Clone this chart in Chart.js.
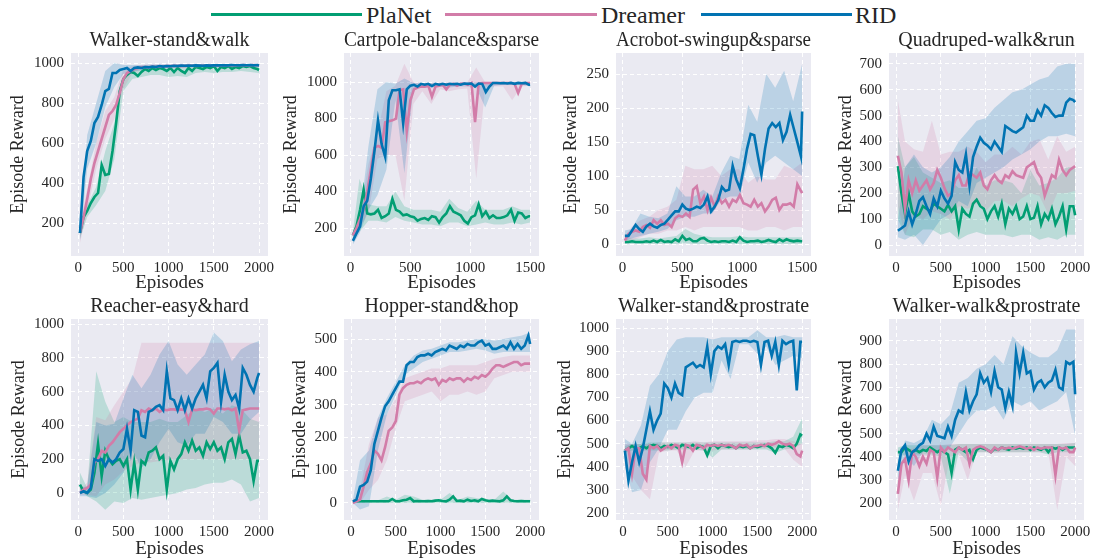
<!DOCTYPE html>
<html><head><meta charset="utf-8">
<script src="https://cdn.jsdelivr.net/npm/chart.js@4.4.1/dist/chart.umd.min.js"></script>
<style>
html,body{margin:0;padding:0;background:#fff;width:1094px;height:559px;overflow:hidden;position:relative;font-family:"Liberation Serif",serif;}
canvas{position:absolute;}
.lg-line{position:absolute;height:3px;top:13px;}
.lg-text{position:absolute;top:3px;font-size:24px;line-height:24px;color:#262626;white-space:nowrap;}
</style></head><body>
<div class="lg-line" style="left:211px;width:151px;background:#029e73"></div>
<div class="lg-text" style="left:366px">PlaNet</div>
<div class="lg-line" style="left:445px;width:152px;background:#d27ca8"></div>
<div class="lg-text" style="left:601px">Dreamer</div>
<div class="lg-line" style="left:701px;width:151px;background:#0173b2"></div>
<div class="lg-text" style="left:855px">RID</div>
<script>
// ---------- shared x values ----------
const X2000 = [20,60,100,140,180,220,260,300,340,380,420,460,500,540,580,620,660,700,740,780,820,860,900,940,980,1020,1060,1100,1140,1180,1220,1260,1300,1340,1380,1420,1460,1500,1540,1580,1620,1660,1700,1740,1780,1820,1860,1900,1940,1980,2000];
const X1500 = [20,50,80,110,140,170,200,230,260,290,320,350,380,410,440,470,500,530,560,590,620,650,680,710,740,770,800,830,860,890,920,950,980,1010,1040,1070,1100,1130,1160,1190,1220,1250,1280,1310,1340,1370,1400,1430,1460,1490,1500];
const B2000 = [20,100,200,300,400,500,600,700,800,900,1000,1100,1200,1300,1400,1500,1600,1700,1800,1900,2000];
const B1500 = [20,75,150,225,300,375,450,525,600,675,750,825,900,975,1050,1125,1200,1275,1350,1425,1500];
const XT2000 = [0,500,1000,1500,2000];
const XT1500 = [0,500,1000,1500];

// ---------- Walker-stand&walk ----------
const wsw_rid = [150,430,560,610,700,730,790,860,870,950, 950,965,970,975,960,975,978,975,980,978, 982,980,985,982,985,984,986,985,987,986, 987,986,988,987,986,988,987,988,989,988, 989,988,990,989,988,990,989,990,988,990, 988];
const wsw_dreamer = [150,230,320,420,500,560,620,680,740,760, 790,850,920,950,960,970,975,978,980,978, 982,980,984,982,985,983,986,985,986,985, 987,986,985,987,986,988,987,988,988,987, 989,988,989,988,989,990,988,989,990,989, 988];
const wsw_planet = [150,230,260,300,330,350,490,440,445,560, 700,860,920,940,955,950,935,955,970,960, 975,965,975,970,960,975,955,975,960,950, 975,960,980,975,970,980,975,985,960,980, 975,985,970,980,975,985,980,985,975,970, 965];
const wsw_rid_lo = [110,470,600,780,880,945,955,965,970,975,975,978,978,980,980,982,982,982,982,982,980];
const wsw_rid_hi = [190,640,800,960,1000,990,990,990,992,993,993,994,994,995,995,995,995,995,995,995,995];
const wsw_dre_lo = [100,260,470,620,720,870,950,965,970,972,975,975,976,977,978,978,979,980,980,980,980];
const wsw_dre_hi = [200,370,600,760,830,970,985,990,992,993,994,994,995,995,995,995,995,995,995,995,995];
const wsw_pla_lo = [120,230,290,360,520,860,920,930,940,940,930,935,930,950,955,950,955,955,960,955,950];
const wsw_pla_hi = [180,290,380,560,700,935,975,985,988,990,990,990,990,992,992,992,992,992,992,992,990];
const wsw_yticks = [200,400,600,800,1000];

// ---------- Cartpole-balance&sparse ----------
const cps_rid = [130,170,210,320,350,470,620,790,660,590, 900,955,955,960,775,960,980,985,975,990, 985,990,978,990,985,990,985,990,988,990, 985,992,990,992,975,992,990,945,975,995, 995,993,995,992,995,990,995,993,995,985, 985];
const cps_dreamer = [160,200,250,300,400,520,640,650,640,780, 785,790,800,955,960,730,900,960,970,975, 975,980,920,975,980,985,960,985,990,980, 990,992,985,995,780,990,995,995,995,995, 995,995,995,995,995,990,940,990,995,995, 995];
const cps_planet = [160,210,300,410,280,275,280,300,255,265, 280,360,300,290,270,275,265,260,240,250, 255,245,265,260,230,260,280,320,290,280, 270,240,225,260,270,330,265,290,255,270, 255,255,260,270,300,240,285,280,255,265, 265];
const cps_rid_lo = [110,170,300,380,520,900,500,960,970,970,975,970,975,975,970,860,980,985,985,985,975];
const cps_rid_hi = [150,240,650,960,1000,990,1020,995,995,995,995,995,998,998,998,1000,998,998,998,998,995];
const cps_dre_lo = [140,200,280,580,600,600,350,880,950,880,960,950,960,965,470,970,975,975,900,975,980];
const cps_dre_hi = [180,260,550,720,950,980,1100,1000,995,995,998,998,998,998,1080,998,998,998,998,998,998];
const cps_pla_lo = [140,180,240,240,230,260,240,230,220,220,210,230,230,210,220,230,220,220,230,220,230];
const cps_pla_hi = [180,470,330,320,320,400,320,300,300,300,290,360,310,290,350,300,300,300,320,300,300];
const cps_yticks = [200,400,600,800,1000];

// ---------- Acrobot-swingup&sparse ----------
const acr_rid = [12,12,20,28,22,18,26,30,26,24, 28,30,36,42,48,48,58,52,50,52, 55,53,58,70,48,55,65,84,78,80, 115,95,82,110,140,162,160,130,102,140, 170,178,172,178,153,165,190,170,150,129, 195];
const acr_dreamer = [5,15,18,20,18,25,28,24,35,30, 35,28,30,25,38,42,40,45,40,80, 85,60,70,50,68,55,70,60,65,55, 65,62,72,60,58,55,65,55,60,48, 55,65,68,50,58,58,60,55,88,78, 75];
const acr_planet = [3,3,4,3,3,3,4,3,5,3, 6,3,4,3,7,4,12,6,8,4, 4,8,9,5,3,4,3,4,4,3, 5,3,10,5,3,4,4,5,3,4, 6,4,3,7,4,7,5,4,5,4, 4];
const acr_rid_lo = [5,8,12,15,18,22,35,40,40,45,45,65,70,70,120,90,120,130,120,110,100];
const acr_rid_hi = [20,22,45,40,38,45,85,70,70,80,70,105,130,125,205,180,250,230,255,210,265];
const acr_dre_lo = [0,5,10,15,15,20,20,25,20,25,25,25,25,25,20,20,25,25,20,25,25];
const acr_dre_hi = [10,25,35,40,50,55,65,115,110,110,115,100,110,110,90,100,95,95,115,110,120];
const acr_pla_lo = [0,0,0,0,0,0,0,1,0,0,0,0,0,0,0,0,0,0,0,0,0];
const acr_pla_hi = [8,8,8,10,8,10,12,22,15,12,10,10,10,12,10,10,10,10,10,10,10];
const acr_yticks = [0,50,100,150,200,250];

// ---------- Quadruped-walk&run ----------
const qdr_rid = [55,65,75,130,80,120,170,185,150,120, 180,150,210,180,160,190,320,290,280,350, 230,340,380,415,395,385,370,400,380,360, 460,450,440,435,445,455,500,480,480,520, 500,540,530,510,495,500,500,550,565,560, 552];
const qdr_dreamer = [345,280,140,250,200,250,210,230,250,215, 240,290,260,220,190,200,250,270,230,230, 280,270,260,280,230,215,250,270,250,240, 270,260,285,270,265,260,300,310,320,280, 260,190,230,270,260,330,290,270,290,300, 305];
const qdr_planet = [305,200,120,200,130,110,120,150,140,130, 160,150,140,130,155,130,150,60,140,120, 110,160,175,150,140,100,130,150,110,160, 80,140,120,150,100,110,150,100,105,150, 80,120,100,140,80,110,150,60,150,150, 115];
const qdr_rid_lo = [30,20,40,0,50,100,120,170,150,240,260,280,300,330,350,370,400,420,420,430,420];
const qdr_rid_hi = [90,300,350,300,280,300,340,400,440,480,490,530,560,590,600,620,640,650,690,700,700];
const qdr_dre_lo = [150,40,120,100,130,120,100,150,140,160,130,170,170,150,180,200,190,120,200,200,210];
const qdr_dre_hi = [560,400,370,360,480,350,360,360,380,360,320,350,350,380,350,400,410,330,420,360,380];
const qdr_pla_lo = [100,40,30,60,60,40,50,20,40,50,40,40,40,30,40,40,20,30,20,40,40];
const qdr_pla_hi = [420,300,340,280,260,240,250,220,220,300,230,250,250,240,200,290,230,240,260,300,300];
const qdr_yticks = [0,100,200,300,400,500,600,700];

// ---------- Reacher-easy&hard ----------
const rch_rid = [0,10,0,30,200,190,200,160,200,180, 200,240,260,380,250,490,480,340,330,480, 490,510,520,490,720,560,550,490,560,490, 560,500,560,600,640,560,720,740,770,540, 700,600,550,580,500,740,700,640,600,680, 710];
const rch_dreamer = [0,20,30,50,180,200,250,240,280,300, 330,360,380,400,420,430,440,490,480,500, 490,500,480,495,490,495,495,490,495,490, 420,495,490,495,495,500,495,470,500,500, 495,500,490,500,370,490,495,500,500,500, 500];
const rch_planet = [50,10,0,20,120,290,100,250,200,170, 190,200,160,200,20,180,20,190,170,240, 250,270,200,220,20,190,140,200,230,300, 250,310,250,270,220,300,260,300,250,270, 200,300,320,230,340,240,250,200,70,190, 190];
const rch_rid_lo = [-20,-20,-30,0,50,120,250,150,200,300,380,300,280,350,350,450,420,350,350,430,480];
const rch_rid_hi = [30,40,420,400,410,560,700,620,700,820,900,760,700,760,820,950,900,780,850,880,900];
const rch_dre_lo = [-10,-10,-20,50,80,130,160,180,180,190,195,200,200,200,200,200,200,200,200,200,200];
const rch_dre_hi = [20,60,450,430,520,600,680,890,890,890,890,890,890,890,890,890,890,890,890,890,890];
const rch_pla_lo = [20,-20,-50,-100,-50,-60,-30,-40,-30,-20,-10,0,20,30,50,60,60,80,50,-50,-30];
const rch_pla_hi = [120,30,720,540,420,450,420,420,420,440,420,420,460,500,480,500,470,520,500,440,420];
const rch_yticks = [0,200,400,600,800,1000];

// ---------- Hopper-stand&hop ----------
const hop_rid = [5,10,50,55,65,100,180,220,260,295, 310,330,350,370,370,420,430,430,445,450, 450,455,450,460,465,470,465,480,475,470, 480,475,485,480,480,490,495,480,485,470, 470,475,480,470,490,470,485,470,480,510, 485];
const hop_dreamer = [0,5,10,50,95,120,160,150,130,170, 220,230,250,330,350,360,365,365,370,365, 375,380,375,380,360,375,370,380,375,380, 380,370,380,375,385,380,390,385,395,410, 420,420,415,420,425,430,430,420,425,425, 425];
const hop_planet = [5,5,5,5,5,5,5,5,5,5, 5,12,5,5,8,10,15,5,6,5, 5,6,5,7,8,6,5,10,20,6, 7,5,10,6,8,5,12,8,6,7, 6,5,8,20,8,6,5,6,5,5, 5];
const hop_rid_lo = [0,-20,-10,160,270,330,390,410,430,440,450,460,460,465,470,465,455,460,460,460,460];
const hop_rid_hi = [10,130,160,260,320,370,420,450,465,470,480,490,490,495,500,500,495,500,505,510,520];
const hop_dre_lo = [0,0,40,70,130,230,310,320,330,340,310,330,330,340,330,340,380,390,400,400,400];
const hop_dre_hi = [5,40,180,260,270,320,380,390,400,410,410,420,420,420,420,430,440,445,450,450,450];
const hop_pla_lo = [0,0,0,0,0,0,0,0,0,0,0,0,0,0,0,0,0,0,0,0,0];
const hop_pla_hi = [8,8,8,8,20,10,25,20,10,10,10,30,10,20,15,10,10,35,10,10,10];
const hop_yticks = [0,100,200,300,400,500];

// ---------- Walker-stand&prostrate ----------
const wsp_rid = [470,340,420,490,420,480,560,640,560,600, 630,760,740,700,760,720,710,830,840,850, 830,840,830,920,800,900,920,910,930,840, 940,945,940,945,945,940,945,940,840,940, 945,880,940,840,945,930,940,945,730,940, 940];
const wsp_dreamer = [470,480,370,480,480,370,345,490,480,490, 470,480,490,480,495,490,420,495,490,470, 495,490,480,495,490,495,490,495,490,495, 490,480,495,490,495,480,490,490,495,490, 500,495,500,510,500,495,500,490,455,445, 470];
const wsp_planet = [470,480,490,480,480,490,480,490,495,490, 480,490,485,495,490,480,495,490,485,495, 480,490,485,450,490,495,480,495,490,485, 490,480,490,485,490,480,490,485,490,495, 490,480,460,490,485,495,490,480,500,540, 535];
const wsp_rid_lo = [400,290,300,420,480,560,560,640,700,720,720,860,780,930,930,890,920,840,860,880,870];
const wsp_rid_hi = [520,500,580,750,800,900,950,960,960,960,950,960,960,960,960,990,960,960,970,960,960];
const wsp_dre_lo = [400,360,300,260,460,470,470,400,470,470,470,475,475,475,475,480,480,485,480,430,400];
const wsp_dre_hi = [500,500,500,500,505,505,505,505,510,505,510,510,510,510,510,515,515,520,520,510,500];
const wsp_pla_lo = [460,470,470,470,470,470,475,475,475,470,440,475,475,475,475,475,475,460,475,480,500];
const wsp_pla_hi = [490,500,500,505,505,505,505,505,505,505,505,505,505,505,505,505,505,510,510,530,610];
const wsp_yticks = [200,300,400,500,600,700,800,900,1000];

// ---------- Walker-walk&prostrate ----------
const wwp_rid = [340,430,450,380,420,430,450,460,500,470, 530,490,485,480,530,490,560,600,590,680, 600,640,670,760,720,740,680,770,700,690, 610,680,620,850,760,850,760,770,690,720, 730,700,720,730,775,700,690,810,800,810, 670];
const wwp_dreamer = [240,370,390,300,420,400,360,400,370,430, 420,310,440,420,440,430,420,440,430,440, 370,430,440,445,440,430,420,440,430,440, 435,440,435,440,445,440,435,440,430,440, 435,440,440,440,320,440,435,440,420,420, 440];
const wwp_planet = [420,420,440,430,420,430,420,430,425,440, 430,420,430,420,410,330,430,440,430,420, 430,390,430,440,435,430,420,435,430,440, 435,430,440,435,440,435,440,430,440,435, 430,440,420,440,435,440,430,440,440,440, 440];
const wwp_rid_lo = [300,400,360,420,440,420,440,500,560,600,600,620,560,640,620,640,600,620,640,680,490];
const wwp_rid_hi = [380,470,460,480,560,540,580,720,740,780,800,840,800,920,880,850,830,830,860,950,950];
const wwp_dre_lo = [170,320,210,330,330,190,400,410,300,420,420,415,420,420,420,420,420,420,170,400,360];
const wwp_dre_hi = [300,420,440,450,450,450,455,455,455,455,455,455,455,455,455,455,455,455,455,460,460];
const wwp_pla_lo = [400,410,410,410,410,400,240,420,380,420,420,420,420,420,420,420,420,410,420,420,420];
const wwp_pla_hi = [440,450,450,450,450,450,450,455,455,455,455,455,455,455,455,455,455,455,455,455,460];
const wwp_yticks = [200,300,400,500,600,700,800,900];

// ---------- styling / layout ----------
const F = "'Liberation Serif', 'Times New Roman', serif";
Chart.defaults.font.family = F;
Chart.defaults.font.size = 15;
Chart.defaults.color = '#262626';
const TXT = '#262626';
const COL = {pla:'#029e73', dre:'#d27ca8', rid:'#0173b2'};
const BAND = {pla:'rgba(2,158,115,0.2)', dre:'rgba(210,124,168,0.2)', rid:'rgba(1,115,178,0.2)'};
const COLS = [[71,268],[344,539],[616,811],[889,1084]];
const ROWS = [{top:27, plotH:203, xPad:2},{top:293, plotH:201, xPad:0}];

const panels = [
 {t:'Walker-stand&walk', row:0,col:0, x:X2000,bx:B2000,xt:XT2000,xmin:-79,xmax:2099, ymin:35,ymax:1050,yt:wsw_yticks, ylp:6.2,
  rid:wsw_rid,dre:wsw_dreamer,pla:wsw_planet, ridLo:wsw_rid_lo,ridHi:wsw_rid_hi,dreLo:wsw_dre_lo,dreHi:wsw_dre_hi,plaLo:wsw_pla_lo,plaHi:wsw_pla_hi},
 {t:'Cartpole-balance&sparse', row:0,col:1, x:X1500,bx:B1500,xt:XT1500,xmin:-54,xmax:1574, ymin:47,ymax:1159,yt:cps_yticks, ylp:6.2,
  rid:cps_rid,dre:cps_dreamer,pla:cps_planet, ridLo:cps_rid_lo,ridHi:cps_rid_hi,dreLo:cps_dre_lo,dreHi:cps_dre_hi,plaLo:cps_pla_lo,plaHi:cps_pla_hi},
 {t:'Acrobot-swingup&sparse', row:0,col:2, x:X1500,bx:B1500,xt:XT1500,xmin:-54,xmax:1574, ymin:-17.6,ymax:281,yt:acr_yticks, ylp:14.2,
  rid:acr_rid,dre:acr_dreamer,pla:acr_planet, ridLo:acr_rid_lo,ridHi:acr_rid_hi,dreLo:acr_dre_lo,dreHi:acr_dre_hi,plaLo:acr_pla_lo,plaHi:acr_pla_hi},
 {t:'Quadruped-walk&run', row:0,col:3, x:X2000,bx:B2000,xt:XT2000,xmin:-79,xmax:2099, ymin:-42.5,ymax:742,yt:qdr_yticks, ylp:16.2,
  rid:qdr_rid,dre:qdr_dreamer,pla:qdr_planet, ridLo:qdr_rid_lo,ridHi:qdr_rid_hi,dreLo:qdr_dre_lo,dreHi:qdr_dre_hi,plaLo:qdr_pla_lo,plaHi:qdr_pla_hi},
 {t:'Reacher-easy&hard', row:1,col:0, x:X2000,bx:B2000,xt:XT2000,xmin:-79,xmax:2099, ymin:-160,ymax:1030,yt:rch_yticks, ylp:7.2,
  rid:rch_rid,dre:rch_dreamer,pla:rch_planet, ridLo:rch_rid_lo,ridHi:rch_rid_hi,dreLo:rch_dre_lo,dreHi:rch_dre_hi,plaLo:rch_pla_lo,plaHi:rch_pla_hi},
 {t:'Hopper-stand&hop', row:1,col:1, x:X2000,bx:B2000,xt:XT2000,xmin:-79,xmax:2099, ymin:-52,ymax:561,yt:hop_yticks, ylp:15.2,
  rid:hop_rid,dre:hop_dreamer,pla:hop_planet, ridLo:hop_rid_lo,ridHi:hop_rid_hi,dreLo:hop_dre_lo,dreHi:hop_dre_hi,plaLo:hop_pla_lo,plaHi:hop_pla_hi},
 {t:'Walker-stand&prostrate', row:1,col:2, x:X2000,bx:B2000,xt:XT2000,xmin:-79,xmax:2099, ymin:170,ymax:1039,yt:wsp_yticks, ylp:8.2,
  rid:wsp_rid,dre:wsp_dreamer,pla:wsp_planet, ridLo:wsp_rid_lo,ridHi:wsp_rid_hi,dreLo:wsp_dre_lo,dreHi:wsp_dre_hi,plaLo:wsp_pla_lo,plaHi:wsp_pla_hi},
 {t:'Walker-walk&prostrate', row:1,col:3, x:X2000,bx:B2000,xt:XT2000,xmin:-79,xmax:2099, ymin:127,ymax:995,yt:wwp_yticks, ylp:16.2,
  rid:wwp_rid,dre:wwp_dreamer,pla:wwp_planet, ridLo:wwp_rid_lo,ridHi:wwp_rid_hi,dreLo:wwp_dre_lo,dreHi:wwp_dre_hi,plaLo:wwp_pla_lo,plaHi:wwp_pla_hi}
];

function pts(xs, ys){ return xs.map((x,i)=>({x:x, y:ys[i]})); }
const bgPlugin = {id:'bg', beforeDraw(chart){
  const a = chart.chartArea, ctx = chart.ctx;
  ctx.save(); ctx.fillStyle = '#eaeaf2';
  ctx.fillRect(a.left, a.top, a.right-a.left, a.bottom-a.top); ctx.restore();
}};
const YW = 70, XH = 40, RP = 14, TH = 26;

panels.forEach(p => {
  const [L,R] = COLS[p.col];
  const rw = ROWS[p.row];
  const cv = document.createElement('canvas');
  cv.width = YW + (R-L) + RP;
  cv.height = TH + rw.plotH + XH;
  cv.style.left = (L-YW)+'px';
  cv.style.top = rw.top+'px';
  document.body.appendChild(cv);
  const line = (k,d) => ({data:pts(p.x,d), borderColor:COL[k], borderWidth:2.6, pointRadius:0, fill:false, tension:0});
  const lo = (d) => ({data:pts(p.bx,d), borderColor:'rgba(0,0,0,0)', borderWidth:0, pointRadius:0, fill:false, tension:0});
  const hi = (k,d) => ({data:pts(p.bx,d), borderColor:'rgba(0,0,0,0)', borderWidth:0, pointRadius:0, fill:'-1', backgroundColor:BAND[k], tension:0});
  const datasets = [
    line('rid',p.rid), line('dre',p.dre), line('pla',p.pla),
    lo(p.ridLo), hi('rid',p.ridHi),
    lo(p.dreLo), hi('dre',p.dreHi),
    lo(p.plaLo), hi('pla',p.plaHi)
  ];
  const grid = {color:'#ffffff', lineWidth:1, drawTicks:false};
  const border = {display:false, dash:[4,3]};
  new Chart(cv, {
    type:'line',
    data:{datasets},
    options:{
      responsive:false, animation:false, devicePixelRatio:1,
      font:{family:F},
      layout:{padding:{left:0,right:RP,top:0,bottom:0}},
      plugins:{
        legend:{display:false}, tooltip:{enabled:false},
        title:{display:true, text:p.t, fullSize:false, color:TXT, font:{family:F,size:20,weight:'normal',lineHeight:1.2}, padding:{top:2,bottom:0}}
      },
      scales:{
        x:{type:'linear', min:p.xmin, max:p.xmax,
          afterBuildTicks:s=>{ s.ticks = p.xt.map(v=>({value:v})); },
          afterFit:s=>{ s.height = XH; },
          ticks:{font:{family:F,size:15,weight:'normal'}, color:TXT, padding:3, maxRotation:0, autoSkip:false, callback:v=>String(v)},
          grid, border,
          title:{display:true, text:'Episodes', color:TXT, font:{family:F,size:19,weight:'normal',lineHeight:1.2}, padding:{top:0,bottom:rw.xPad}}
        },
        y:{type:'linear', min:p.ymin, max:p.ymax,
          afterBuildTicks:s=>{ s.ticks = p.yt.map(v=>({value:v})); },
          afterFit:s=>{ s.width = YW; },
          ticks:{font:{family:F,size:15,weight:'normal'}, color:TXT, padding:7, autoSkip:false, callback:v=>String(v)},
          grid, border,
          title:{display:true, text:'Episode Reward', color:TXT, font:{family:F,size:18,weight:'normal',lineHeight:1.2}, padding:{top:p.ylp,bottom:0}}
        }
      }
    },
    plugins:[bgPlugin]
  });
});
</script>
</body></html>
